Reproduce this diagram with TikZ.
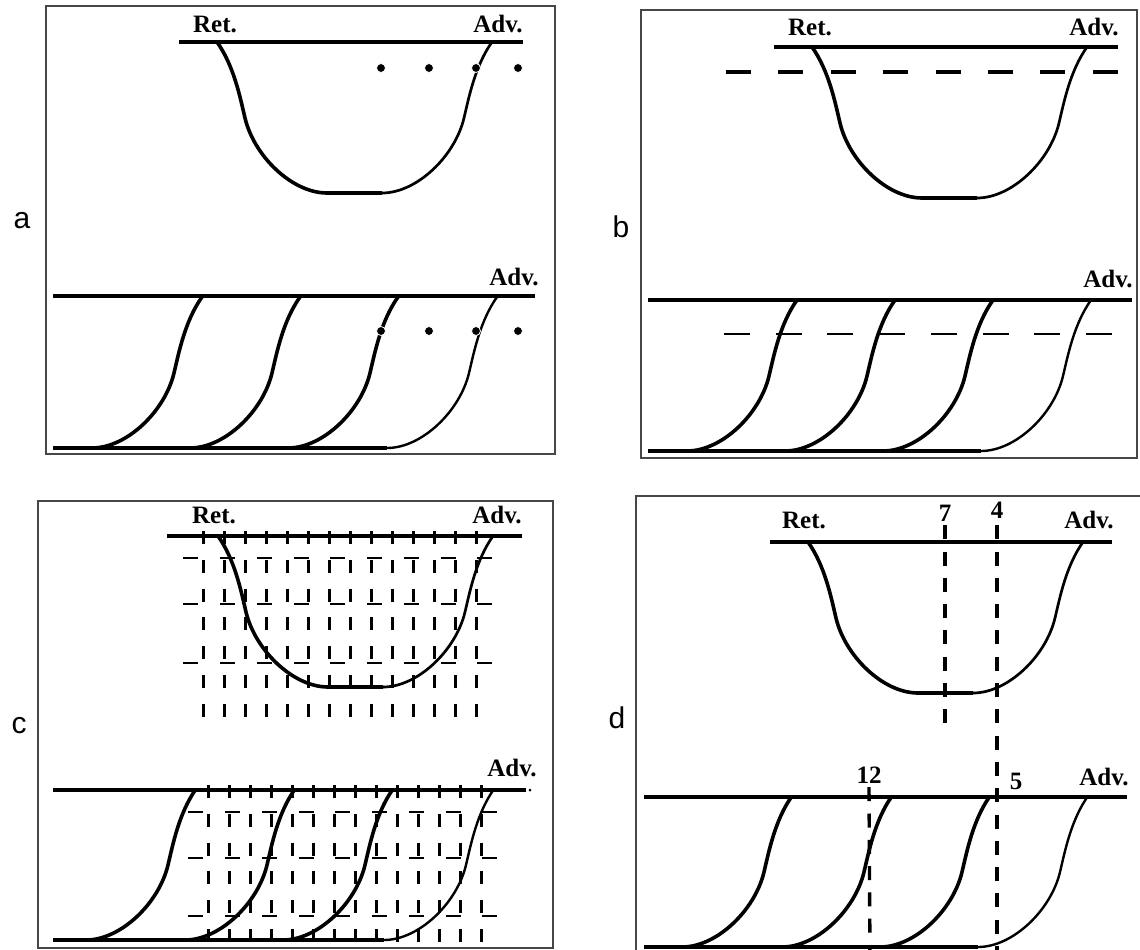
\documentclass[tikz,border=0pt]{standalone}
\usepackage{fontspec}
\setmainfont{Liberation Serif}
\newfontfamily\labelsans{Liberation Sans}
\usetikzlibrary{shapes.geometric}
\tikzset{
  rise/.pic={\draw (0,0) .. controls (35,0) and (73,-37) .. (82,-75) .. controls (87,-96) and (93,-127) .. (110,-151);},
  trough/.pic={
    \draw[line width=3.6bp] (0,0) .. controls (17,24) and (23,55) .. (28,76) .. controls (37,114) and (75,151) .. (110,151) -- (165,151);
    \draw[line width=2.7bp] (165,151) .. controls (200,151) and (238,114) .. (247,76) .. controls (252,55) and (258,24) .. (275,0);
  },
}
\begin{document}
\begin{tikzpicture}[x=1bp,y=-1bp,
  frame/.style={draw=black!72,line width=1.5bp},
  hline/.style={line width=4.4bp},
  thickc/.style={line width=3.6bp},
  thinc/.style={line width=2.4bp},
  tag/.style={font=\bfseries\fontsize{25bp}{25bp}\selectfont,inner sep=0pt,anchor=base},
  panelname/.style={font=\labelsans\fontsize{30bp}{30bp}\selectfont,inner sep=0pt,anchor=base},
  dot/.style={circle,fill=black,draw=white,line width=0.8bp,inner sep=0pt,minimum size=9bp},
  bdashtop/.style={line width=4bp,dash pattern=on 25bp off 27.4bp},
  bdashlow/.style={line width=2.7bp,dash pattern=on 26bp off 25.7bp},
  vgrid/.style={line width=3.2bp,dash pattern=on 13bp off 15.8bp},
  hgrid/.style={line width=2.9bp,dash pattern=on 15bp off 21.75bp},
  ddash/.style={line width=3.4bp,dash pattern=on 14bp off 12.3bp},
]
\useasboundingbox (0,0) rectangle (1140,950);
\fill[white] (0,0) rectangle (1140,950);
\clip (0,0) rectangle (1140,950);

% ---------------- panel a ----------------
\draw[frame] (46,6) rectangle (555,454);
\node[panelname] (la) at (22,228) {a};
\draw[hline] (179,42) -- (523,42);
\node[tag] (aret) at (215,32) {Ret.};
\node[tag] (aadv) at (498,32) {Adv.};
\pic at (217,42) {trough};
\draw[hline] (53,296) -- (535,296);
\draw[hline] (53,448) -- (387,448);
\pic[thickc] at (92,448) {rise};
\pic[thickc] at (190,448) {rise};
\pic[thickc] at (288,448) {rise};
\pic[thinc] at (387,448) {rise};
\node[tag] (aadv2) at (514,285) {Adv.};
\foreach \x [count=\i] in {381,429,476,518}{
  \node[dot] (adt\i) at (\x,68) {};
  \node[dot] (adb\i) at (\x,331) {};
}

% ---------------- panel b ----------------
\draw[frame] (641,10) rectangle (1137,458);
\node[panelname] (lb) at (621,237) {b};
\draw[hline] (774,47) -- (1118,47);
\node[tag] (bret) at (810,35) {Ret.};
\node[tag] (badv) at (1094,35) {Adv.};
\pic at (812,47) {trough};
\draw[bdashtop] (726,72) -- (1118,72);
\draw[hline] (648,300) -- (1132,300);
\draw[hline] (648,451) -- (981,451);
\pic[thickc] at (687,451) {rise};
\pic[thickc] at (785,451) {rise};
\pic[thickc] at (883,451) {rise};
\pic[thinc] at (981,451) {rise};
\node[tag] (badv2) at (1108,287) {Adv.};
\draw[bdashlow] (724,334) -- (1117,334);

% ---------------- panel c ----------------
\draw[frame] (38,501) rectangle (553,948);
\node[panelname] (lc) at (19,733) {c};
\foreach \k in {0,...,13}{
  \draw[vgrid] ({203.3+21.03*\k},531) -- ++(0,190);
}
\foreach \y in {558,604,663}{
  \draw[hgrid] (183.3,\y) -- (493,\y);
}
\draw[hline] (167,536) -- (522,536);
\node[tag] (cret) at (214,523) {Ret.};
\node[tag] (cadv) at (497,523) {Adv.};
\pic at (218,536) {trough};
% lower
\foreach \k in {0,...,13}{
  \draw[vgrid] ({208.3+21.03*\k},785) -- ++(0,175);
}
\foreach \y in {812,858,916}{
  \draw[hgrid] (188.3,\y) -- (498,\y);
}
\draw[hline] (53,790) -- (526,790);
\fill (530,790) circle (1.5);
\draw[hline] (53,940) -- (384,940);
\pic[thickc] at (86,940) {rise};
\pic[thickc] at (185,940) {rise};
\pic[thickc] at (283,940) {rise};
\pic[thinc] at (384,940) {rise};
\node[tag] (cadv2) at (512,776) {Adv.};

% ---------------- panel d ----------------
\draw[frame] (636,960) -- (636,496) -- (1150,496);
\node[panelname] (ld) at (617,728) {d};
\draw[hline] (770,542) -- (1112,542);
\node[tag] (dret) at (804,528) {Ret.};
\node[tag] (dadv) at (1089,528) {Adv.};
\node[tag] (n7) at (945,521) {7};
\node[tag] (n4) at (997,518) {4};
\pic at (808,542) {trough};
\draw[hline] (644,797) -- (1127,797);
\draw[hline] (644,947) -- (978,947);
\pic[thickc] at (682,947) {rise};
\pic[thickc] at (782,947) {rise};
\pic[thickc] at (880,947) {rise};
\pic[thinc] at (978,947) {rise};
\node[tag] (n12) at (869,783) {12};
\node[tag] (n5) at (1016,789) {5};
\node[tag] (dadv2) at (1104,785) {Adv.};
\coordinate (e7) at (945,723);
\coordinate (e4) at (997,960);
\coordinate (e12) at (870,960);
\draw[ddash] ([yshift=-4bp]n7.south) -- (e7);
\draw[ddash] ([yshift=-7bp]n4.south) -- (e4);
\draw[ddash] ([yshift=-4bp]n12.south) -- (e12);
\end{tikzpicture}
\end{document}
